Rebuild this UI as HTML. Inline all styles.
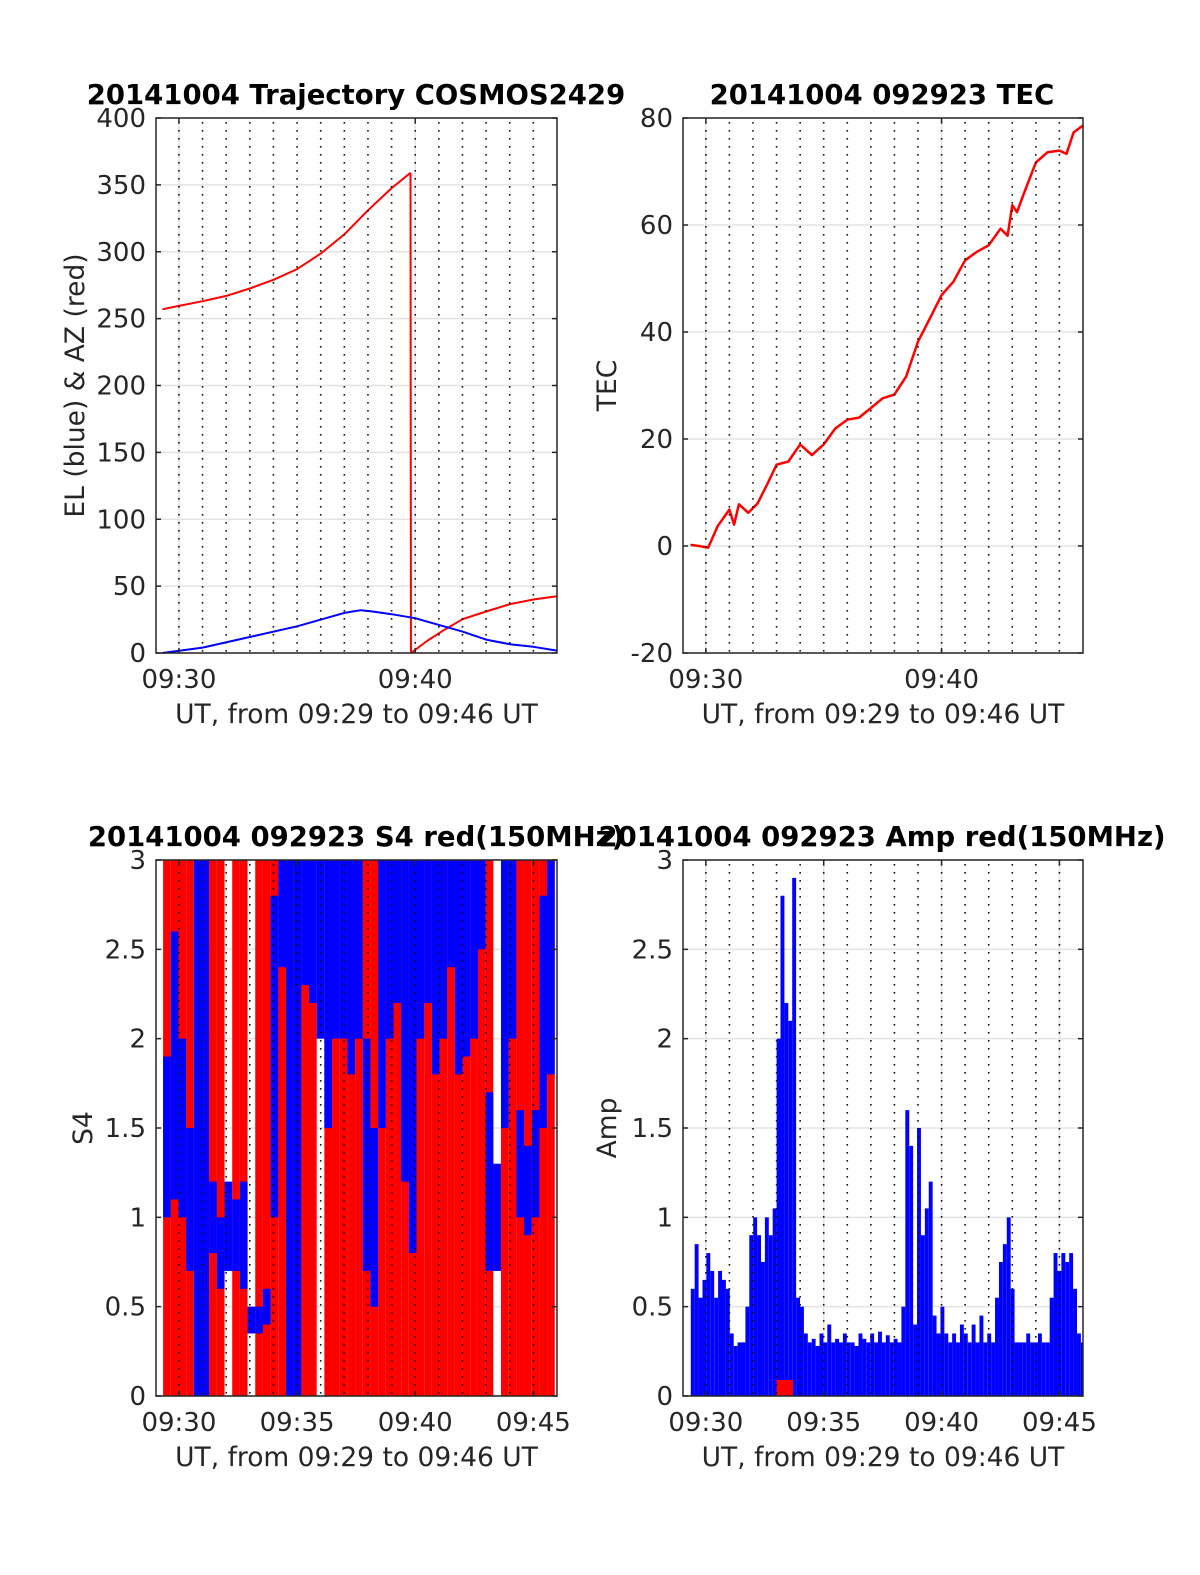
<!DOCTYPE html>
<html><head><meta charset="utf-8"><style>
html,body{margin:0;padding:0;background:#fff}
svg{display:block}
text{font-family:"DejaVu Sans","Liberation Sans",sans-serif;fill:#262626}
</style></head><body>
<svg id="fig" width="1200" height="1575" viewBox="0 0 1200 1575" xmlns="http://www.w3.org/2000/svg">
<rect width="1200" height="1575" fill="#fff"/>
</svg>
<script>
// ---- shared time axis ----
const tMin = 29.03, tMax = 46.0;
const minuteGrid = [30,31,32,33,34,35,36,37,38,39,40,41,42,43,44,45];
// ---- panel 1: trajectory ----
const azTimes1 = [29.3,30,31,32,33,34,35,36,37,38,39,39.8];
const azVals1 = [257,259.5,263,267,272.5,279,287,298.6,313,331,347.6,359];
const azTimes2 = [39.82,40.5,41.2,42,43,44,45,46];
const azVals2 = [0,9,17,25.3,31,36.5,40,42.5];
const elTimes = [29.3,31,33,35,37,37.7,38.2,39,40,41,42,43,44,45,46];
const elVals = [0,4,12,20,30,32,31,29,26,21,16,10,6.6,4.6,1.8];
const p1YTicks = [0,50,100,150,200,250,300,350,400];
// ---- panel 2: TEC ----
const tecTimes = [29.35,29.7,30.1,30.5,31.0,31.2,31.4,31.8,32.2,32.6,33.0,33.5,34.0,34.5,35.0,35.5,36.0,36.5,37.0,37.5,38.0,38.5,39.0,39.5,40.0,40.5,41.0,41.5,42.0,42.5,42.8,43.0,43.2,43.5,44.0,44.5,45.0,45.3,45.6,46.0];
const tecVals = [0.2,0,-0.3,3.7,6.8,4,7.8,6.2,8,11.5,15.2,15.8,19,17,19,22,23.6,24,25.8,27.6,28.3,31.7,38.2,42.5,46.9,49.4,53.4,55,56.2,59.3,58,63.7,62.4,66,71.7,73.6,73.9,73.3,77.3,78.6];
const p2YTicks = [-20,0,20,40,60,80];
// ---- panel 3: S4 (20-s bins) ----
const s4Start = 29.33, s4Step = 0.325;
const s4RedOn = [1,1,1,1,0,1,1,1,0,1,1,0,1,1,1,1,0,1,1,1,0,1,1,1,1,1,1,1,1,1,1,1,1,1,1,1,1,1,1,1,1,1,1,0,1,1,1,1,1,1,1];
const s4BlueLo = [1.0,1.1,1.0,0.7,0,0,0.8,0.6,0.7,0.7,0.6,0.35,0.35,0.4,1.0,2.4,0,0,2.3,2.2,2.0,1.5,2.0,2.0,1.8,2.0,0.7,0.5,1.5,2.0,2.2,1.2,0.8,2.0,2.2,1.8,2.0,2.4,1.8,1.9,2.0,2.5,0.7,0.7,1.5,2.0,1.0,0.9,1.0,1.5,1.8];
const s4BlueHi = [1.9,2.6,2.0,1.5,3,3,1.2,1.0,1.2,1.1,1.2,0.5,0.5,0.6,2.8,3,3,3,3,3,3,3,3,3,3,3,2.0,1.5,3,3,3,3,3,3,3,3,3,3,3,3,3,3,1.7,1.3,3,3,1.6,1.4,1.6,2.8,3];
const s34YTicks = [0,0.5,1,1.5,2,2.5,3];
// ---- panel 4: amplitude (10-s bins) ----
const ampStart = 29.36, ampStep = 0.1655;
const ampVals = [0.6,0.85,0.55,0.65,0.8,0.7,0.55,0.7,0.65,0.6,
 0.35,0.28,0.3,0.3,0.5,0.9,1.0,0.9,0.75,1.0,
 0.9,1.05,2.0,2.8,2.2,2.1,2.9,0.55,0.5,0.35,
 0.3,0.32,0.28,0.35,0.3,0.4,0.3,0.32,0.3,0.35,
 0.3,0.3,0.28,0.35,0.32,0.3,0.35,0.3,0.36,0.3,
 0.34,0.3,0.32,0.3,0.5,1.6,1.4,0.4,1.5,0.9,
 1.05,1.2,0.45,0.35,0.5,0.35,0.3,0.35,0.3,0.4,
 0.35,0.3,0.4,0.3,0.45,0.3,0.35,0.3,0.55,0.75,
 0.85,1.0,0.6,0.3,0.3,0.3,0.35,0.3,0.3,0.35,
 0.3,0.3,0.55,0.8,0.7,0.8,0.75,0.8,0.6,0.35,0.3];
const ampRedTimes = [33.0,33.7];
const ampRedVals = [0.09,0.09];

const NS = 'http://www.w3.org/2000/svg';
const svg = document.getElementById('fig');
function el(tag, attrs, parent){
  const e = document.createElementNS(NS, tag);
  for (const k in attrs) e.setAttribute(k, attrs[k]);
  (parent||svg).appendChild(e);
  return e;
}
function fmtT(m){ return '09:' + String(m).padStart(2,'0'); }

function makePanel(cfg){
  const g = el('g', {});
  
  
  const X = t => cfg.x0 + (t - tMin) / (tMax - tMin) * (cfg.x1 - cfg.x0);
  const Y = v => cfg.y1 - (v - cfg.ymin) / (cfg.ymax - cfg.ymin) * (cfg.y1 - cfg.y0);
  cfg.yticks.forEach(v => {
    const l = el('line', {x1:cfg.x0, x2:cfg.x1, y1:Y(v), y2:Y(v), stroke:'#e3e3e3', 'stroke-width':1.5}, g);
    
    
  });
  cfg.xlabels.forEach(m => {
    const l = el('line', {x1:X(m), x2:X(m), y1:cfg.y0, y2:cfg.y1, stroke:'#e3e3e3', 'stroke-width':1.5}, g);
    
    
  });
  const dataG = el('g', {}, g);
  
  
  cfg.draw(dataG, X, Y);
  minuteGrid.forEach(m => {
    const l = el('line', {x1:X(m), x2:X(m), y1:cfg.y0+4, y2:cfg.y1, stroke:'#111', 'stroke-width':1.6, 'stroke-dasharray':'1.6 6.4'}, g);
    
    
  });
  const fr = el('rect', {x:cfg.x0, y:cfg.y0, width:cfg.x1-cfg.x0, height:cfg.y1-cfg.y0, fill:'none', stroke:'#262626', 'stroke-width':1.5}, g);
  
  
  cfg.yticks.forEach(v => {
    el('line', {x1:cfg.x0, x2:cfg.x0+5, y1:Y(v), y2:Y(v), stroke:'#262626', 'stroke-width':1.5}, g);
    el('line', {x1:cfg.x1-5, x2:cfg.x1, y1:Y(v), y2:Y(v), stroke:'#262626', 'stroke-width':1.5}, g);
    const t = el('text', {x:cfg.x0-10, y:Y(v)+9, 'text-anchor':'end', 'font-size':26}, g);
    t.textContent = String(v);
    
    
  });
  cfg.xlabels.forEach(m => {
    el('line', {x1:X(m), x2:X(m), y1:cfg.y1-5, y2:cfg.y1, stroke:'#262626', 'stroke-width':1.5}, g);
    el('line', {x1:X(m), x2:X(m), y1:cfg.y0, y2:cfg.y0+5, stroke:'#262626', 'stroke-width':1.5}, g);
    const t = el('text', {x:X(m), y:cfg.y1+35, 'text-anchor':'middle', 'font-size':26}, g);
    t.textContent = fmtT(m);
    
    
  });
  const xl = el('text', {x:(cfg.x0+cfg.x1)/2, y:cfg.y1+70, 'text-anchor':'middle', 'font-size':26.5}, g);
  xl.textContent = 'UT, from 09:29 to 09:46 UT';
  
  
  const yl = el('text', {x:0, y:0, 'text-anchor':'middle', 'font-size':26.5, transform:`translate(${cfg.ylx},${(cfg.y0+cfg.y1)/2}) rotate(-90)`}, g);
  yl.textContent = cfg.ylabel;
  
  
  const ti = el('text', {x:cfg.tx, y:cfg.y0-14, 'text-anchor':'middle', 'font-size':27.5, 'font-weight':'bold'}, g);
  ti.textContent = cfg.title;
  ti.style.fill = '#000';
  
  
}
function poly(parent, ts, vs, X, Y, color, w, name){
  const pts = ts.map((t,i) => X(t).toFixed(1)+','+Y(vs[i]).toFixed(1)).join(' ');
  const p = el('polyline', {points:pts, fill:'none', stroke:color, 'stroke-width':w, 'stroke-linejoin':'round'}, parent);
  
  
  return p;
}

makePanel({name:'trajectory-panel', x0:156, x1:557, y0:118, y1:653, ymin:0, ymax:400, yticks:p1YTicks,
  xlabels:[30,40], ylabel:'EL (blue) & AZ (red)', ylx:84, tx:356, title:'20141004 Trajectory COSMOS2429',
  draw:(g,X,Y)=>{
    poly(g, azTimes1, azVals1, X, Y, '#ff0000', 2, 'azimuth-line');
    const d = el('line', {x1:X(azTimes1[azTimes1.length-1]), x2:X(azTimes2[0]), y1:Y(azVals1[azVals1.length-1]), y2:Y(azVals2[0]), stroke:'#ff0000', 'stroke-width':2}, g);
    
    
    poly(g, azTimes2, azVals2, X, Y, '#ff0000', 2, 'azimuth-line-2');
    poly(g, elTimes, elVals, X, Y, '#0000ff', 2, 'elevation-line');
  }});

makePanel({name:'tec-panel', x0:683, x1:1083, y0:118, y1:653, ymin:-20, ymax:80, yticks:p2YTicks,
  xlabels:[30,40], ylabel:'TEC', ylx:616, tx:882, title:'20141004 092923 TEC',
  draw:(g,X,Y)=>{ poly(g, tecTimes, tecVals, X, Y, '#ff0000', 2.5, 'tec-line'); }});

makePanel({name:'s4-panel', x0:156, x1:557, y0:860, y1:1396, ymin:0, ymax:3, yticks:s34YTicks,
  xlabels:[30,35,40,45], ylabel:'S4', ylx:92, tx:356, title:'20141004 092923 S4 red(150MHz)',
  draw:(g,X,Y)=>{
    s4RedOn.forEach((on,i)=>{
      if(!on) return;
      const t0 = s4Start + i*s4Step, t1 = Math.min(t0 + s4Step, tMax);
      if (t0 >= tMax) return;
      const r = el('rect', {x:X(t0), y:Y(3), width:Math.max(0,X(t1)-X(t0)), height:Y(0)-Y(3), fill:'#ff0000'}, g);
      
      
    });
    s4BlueLo.forEach((lo,i)=>{
      const t0 = s4Start + i*s4Step, t1 = Math.min(t0 + s4Step, tMax);
      if (t0 >= tMax) return;
      const hi = s4BlueHi[i];
      const r = el('rect', {x:X(t0), y:Y(hi), width:Math.max(0,X(t1)-X(t0)), height:Y(lo)-Y(hi), fill:'#0000ff'}, g);
      
      
    });
  }});

makePanel({name:'amp-panel', x0:683, x1:1083, y0:860, y1:1396, ymin:0, ymax:3, yticks:s34YTicks,
  xlabels:[30,35,40,45], ylabel:'Amp', ylx:616, tx:882, title:'20141004 092923 Amp red(150MHz)',
  draw:(g,X,Y)=>{
    ampVals.forEach((v,i)=>{
      const t0 = ampStart + i*ampStep, t1 = Math.min(t0 + ampStep, tMax);
      if (t0 >= tMax) return;
      const r = el('rect', {x:X(t0), y:Y(v), width:Math.max(0,X(t1)-X(t0)), height:Y(0)-Y(v), fill:'#0000ff'}, g);
      
      
    });
    const rr = el('rect', {x:X(ampRedTimes[0]), y:Y(ampRedVals[0]), width:X(ampRedTimes[1])-X(ampRedTimes[0]), height:Y(0)-Y(ampRedVals[0]), fill:'#ff0000'}, g);
    
    
  }});
</script>
</body></html>
